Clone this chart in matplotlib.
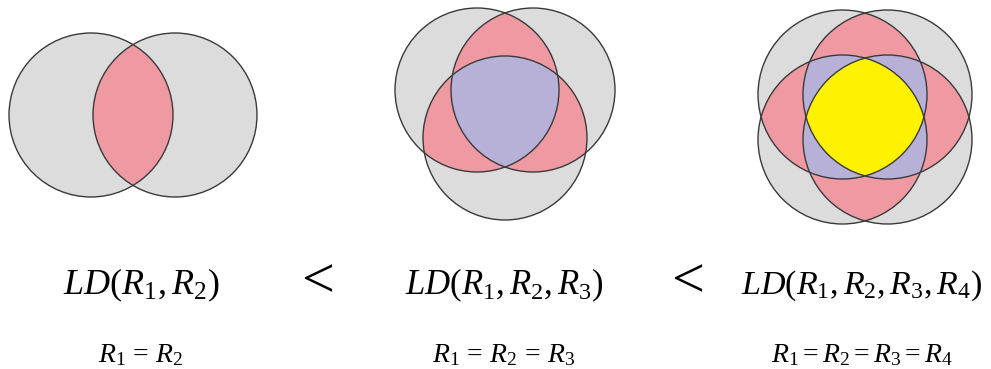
import numpy as np
import matplotlib
matplotlib.use('Agg')
import matplotlib.pyplot as plt
from matplotlib.patches import Circle

# circle centres in pixel coordinates, one list per panel
venn2 = [(91, 115), (175, 115)]
venn3 = [(477, 90), (533, 90), (505, 138)]
venn4 = [(842.5, 94.5), (887.5, 94.5), (842.5, 139.5), (887.5, 139.5)]
radii = [82, 82, 84.5]

labels = [r'$LD(R_1,R_2)$', r'$LD(R_1,R_2,R_3)$', r'$LD(R_1,R_2,R_3,R_4)$']
conds = [r'$R_1\,=\,R_2$', r'$R_1\,=\,R_2\,=\,R_3$', r'$R_1=R_2=R_3=R_4$']
label_x = [141, 504, 862]
less_x = [313, 683]

# colour by number of circles overlapping
region_colors = ['#dcdcdc', '#ef9aa3', '#b7b1d7', '#fff200']

plt.rcParams['mathtext.fontset'] = 'custom'
plt.rcParams['mathtext.rm'] = 'Liberation Serif'
plt.rcParams['mathtext.it'] = 'Liberation Serif:italic'

fig = plt.figure(figsize=(9.91, 3.69), dpi=100)
ax = fig.add_axes([0, 0, 1, 1])
ax.set_xlim(0, 991)
ax.set_ylim(369, 0)
ax.axis('off')

for centres, r in zip([venn2, venn3, venn4], radii):
    c = np.array(centres)
    x = np.linspace(c[:, 0].min() - r - 2, c[:, 0].max() + r + 2, 900)
    y = np.linspace(c[:, 1].min() - r - 2, c[:, 1].max() + r + 2, 900)
    X, Y = np.meshgrid(x, y)
    count = np.zeros_like(X)
    for cx, cy in centres:
        count += ((X - cx) ** 2 + (Y - cy) ** 2 < r ** 2)
    n = len(centres)
    ax.contourf(X, Y, count, levels=np.arange(n + 1) + 0.5,
                colors=region_colors[:n], antialiased=True)
    for cx, cy in centres:
        ax.add_patch(Circle((cx, cy), r, fill=False, ec='#3a3a3a', lw=1.0))

label_size = [26, 25, 24.5]
for xx, lab, cond, fs in zip(label_x, labels, conds, label_size):
    ax.text(xx, 294, lab, fontsize=fs, ha='center', va='baseline')
    ax.text(xx, 362, cond, fontsize=20, ha='center', va='baseline')
for xx in less_x:
    ax.text(xx, 295, r'$<$', fontsize=42, ha='center', va='baseline')

fig.savefig('out.png', dpi=100)
